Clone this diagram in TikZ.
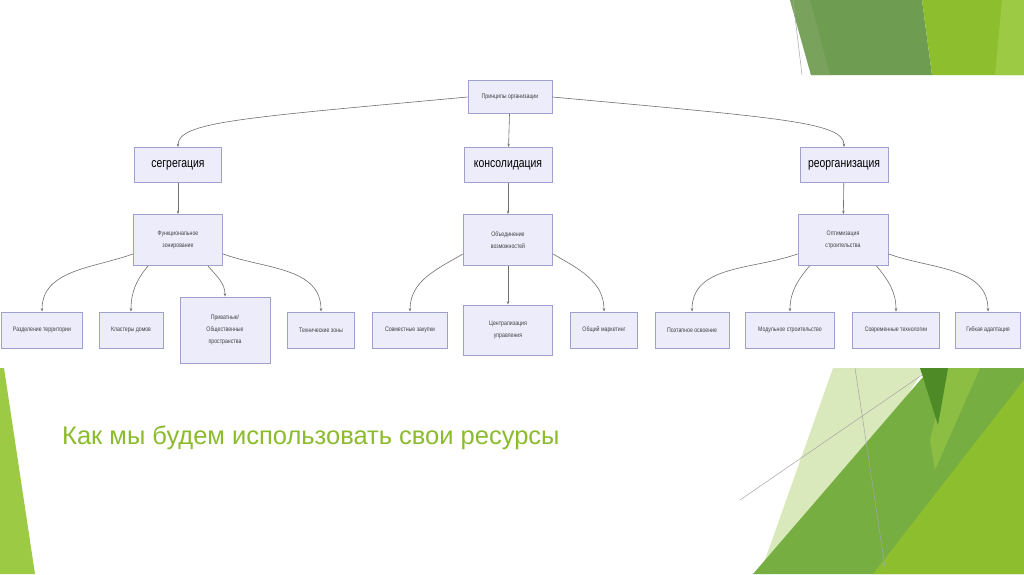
\documentclass[tikz,border=0pt]{standalone}
\usepackage{fontspec}
\setmainfont{Liberation Sans}
\newfontfamily\narrow[FakeStretch=0.8]{Liberation Sans}
\usetikzlibrary{arrows.meta}
\definecolor{boxfill}{HTML}{ECECFB}
\definecolor{boxline}{HTML}{A0A0CC}
\definecolor{edge}{HTML}{707070}
\definecolor{gDark}{HTML}{6E9C50}
\definecolor{gMid}{HTML}{76AE42}
\definecolor{gLime}{HTML}{8DBE2E}
\definecolor{gLight}{HTML}{9CCA44}
\definecolor{gPale}{HTML}{D9E9BC}
\definecolor{gDeep}{HTML}{4E8A26}
\definecolor{titlegreen}{HTML}{8CBB2E}
\tikzset{
  box/.style={draw=boxline, fill=boxfill, line width=0.8pt, align=center, inner sep=0pt,
    font=\narrow\fontsize{6.5}{12}\selectfont, text=black!75},
  bigbox/.style={box, font=\narrow\fontsize{13}{15}\selectfont, text=black},
  conn/.style={draw=edge, line width=0.6pt, -{Stealth[length=3.5pt,width=2.5pt]}}
}
\begin{document}
\begin{tikzpicture}[x=1pt,y=-1pt]
\useasboundingbox (0,0) rectangle (1024,574);
\fill[white] (0,0) rectangle (1024,574);
% top-right decoration
\fill[gDark] (790,0) -- (922,0) -- (932,75) -- (811,75) -- cycle;
\fill[gLime] (922,0) -- (1024,0) -- (1024,75) -- (932,75) -- cycle;
\fill[gLight] (1002,0) -- (1024,0) -- (1024,75) -- (995,75) -- cycle;
\fill[gDark!85!white,opacity=0.5] (790,0) -- (810,0) -- (830,75) -- (811,75) -- cycle;
\draw[gray!70, line width=0.5pt] (793,0) -- (802,75);
% bottom-right decoration
\fill[gPale] (833,368) -- (925,368) -- (800,560) -- (770,574) -- (760,574) -- cycle;
\fill[gMid] (922,378) -- (945,368) -- (1024,368) -- (1024,574) -- (753,574) -- cycle;
\fill[gLime] (873,574) -- (1024,380) -- (1024,574) -- cycle;
\fill[gLight,opacity=0.6] (948,368) -- (980,368) -- (935,470) -- (930,440) -- cycle;
\fill[gDeep] (920,368) -- (948,368) -- (938,425) -- cycle;
\draw[gray!70, line width=0.5pt] (740,500) -- (922,375);
\draw[gray!70, line width=0.5pt] (855,368) -- (886,574);
% left strip
\fill[gLight] (0,368) -- (4,368) -- (35,574) -- (0,574) -- cycle;
% title
\node[anchor=base west, text=titlegreen, font=\fontsize{25.5}{28}\selectfont, inner sep=0pt] (title) at (62,444) {Как мы будем использовать свои ресурсы};
% nodes
\node[box, minimum width=84, minimum height=33] (root) at (510,97) {Принципы организации};
\node[bigbox, minimum width=87, minimum height=35] (seg) at (178,165) {сегрегация};
\node[bigbox, minimum width=88, minimum height=35] (kon) at (508,165) {консолидация};
\node[bigbox, minimum width=88, minimum height=35] (reo) at (844,165) {реорганизация};
\node[box, minimum width=89, minimum height=51] (fz) at (178,240) {Функциональное\\зонирование};
\node[box, minimum width=89, minimum height=51] (ov) at (508,240) {Объединение\\возможностей};
\node[box, minimum width=90, minimum height=51] (os) at (843,240) {Оптимизация\\строительства};
\node[box, minimum width=81, minimum height=36] (a1) at (42,330) {Разделение территории};
\node[box, minimum width=64, minimum height=36] (a2) at (131,330) {Кластеры домов};
\node[box, minimum width=90, minimum height=66] (a3) at (225,330) {Приватные/\\Общественные\\пространства};
\node[box, minimum width=67, minimum height=36] (a4) at (321,330) {Технические зоны};
\node[box, minimum width=75, minimum height=36] (b1) at (410,330) {Совместные закупки};
\node[box, minimum width=89, minimum height=50] (b2) at (508,330) {Централизация\\управления};
\node[box, minimum width=67, minimum height=36] (b3) at (604,330) {Общий маркетинг};
\node[box, minimum width=74, minimum height=36] (c1) at (692,330) {Поэтапное освоение};
\node[box, minimum width=89, minimum height=36] (c2) at (790,330) {Модульное строительство};
\node[box, minimum width=87, minimum height=36] (c3) at (896,330) {Современные технологии};
\node[box, minimum width=65, minimum height=36] (c4) at (988,330) {Гибкая адаптация};
% connectors
\draw[conn] (root.west) .. controls (240,118) and (178,122) .. (seg.north);
\draw[conn] (root) -- (kon);
\draw[conn] (root.east) .. controls (780,118) and (844,122) .. (reo.north);
\draw[conn] (seg) -- (fz);
\draw[conn] (kon) -- (ov);
\draw[conn] (reo) -- (os);
\draw[conn] (fz.south west) ++(0,-12) coordinate (fzl) (fzl) to[out=200,in=90] (a1.north);
\draw[conn] (fz.south west) ++(15,0) coordinate (fzb1) (fzb1) to[out=230,in=90] (a2.north);
\draw[conn] (fz.south east) ++(-15,0) coordinate (fzb2) (fzb2) to[out=-50,in=90] (a3.north);
\draw[conn] (fz.south east) ++(0,-12) coordinate (fzr) (fzr) to[out=-20,in=90] (a4.north);
\draw[conn] (ov.south west) ++(0,-12) coordinate (ovl) (ovl) to[out=210,in=90] (b1.north);
\draw[conn] (ov) -- (b2);
\draw[conn] (ov.south east) ++(0,-12) coordinate (ovr) (ovr) to[out=-30,in=90] (b3.north);
\draw[conn] (os.south west) ++(0,-12) coordinate (osl) (osl) to[out=200,in=90] (c1.north);
\draw[conn] (os.south west) ++(12,0) coordinate (osb1) (osb1) to[out=230,in=90] (c2.north);
\draw[conn] (os.south east) ++(-12,0) coordinate (osb2) (osb2) to[out=-50,in=90] (c3.north);
\draw[conn] (os.south east) ++(0,-12) coordinate (osr) (osr) to[out=-20,in=90] (c4.north);
\end{tikzpicture}
\end{document}
